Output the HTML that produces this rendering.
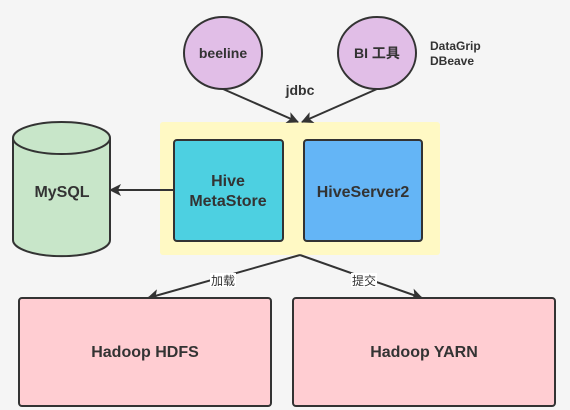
<!DOCTYPE html>
<html><head><meta charset="utf-8"><style>
body{margin:0;background:#f5f5f5;}
svg{display:block;font-family:"Liberation Sans","Noto Sans CJK SC",sans-serif;}
</style></head><body>
<svg width="570" height="410" viewBox="0 0 570 410">
<defs><marker id="a" markerWidth="12" markerHeight="12" refX="11" refY="6" orient="auto" markerUnits="userSpaceOnUse"><path d="M0,0 L12,6 L0,12 L3,6 z" fill="#333"/></marker></defs>
<rect width="570" height="410" fill="#f5f5f5"/>
<rect x="160" y="122" width="280" height="133" rx="3" fill="#fff9c4"/>
<ellipse cx="223" cy="53" rx="39" ry="36" fill="#e1bee7" stroke="#333" stroke-width="2"/>
<ellipse cx="377" cy="53" rx="39" ry="36" fill="#e1bee7" stroke="#333" stroke-width="2"/>
<text x="223" y="58" text-anchor="middle" font-size="14" font-weight="bold" fill="#333">beeline</text>
<text x="377" y="58" text-anchor="middle" font-size="14" font-weight="bold" fill="#333">BI 工具</text>
<text x="430" y="50" font-size="12" font-weight="bold" fill="#333">DataGrip</text>
<text x="430" y="65" font-size="12" font-weight="bold" fill="#333">DBeave</text>
<text x="300" y="95" text-anchor="middle" font-size="14" font-weight="bold" fill="#333">jdbc</text>
<line x1="223" y1="89" x2="298" y2="122" stroke="#333" stroke-width="2" marker-end="url(#a)"/>
<line x1="377" y1="89" x2="302" y2="122" stroke="#333" stroke-width="2" marker-end="url(#a)"/>
<rect x="174" y="140" width="109" height="101" rx="3" fill="#4dd0e1" stroke="#333" stroke-width="2"/>
<rect x="304" y="140" width="118" height="101" rx="3" fill="#64b5f6" stroke="#333" stroke-width="2"/>
<text x="228" y="186" text-anchor="middle" font-size="16" font-weight="bold" fill="#333">Hive</text>
<text x="228" y="206" text-anchor="middle" font-size="16" font-weight="bold" fill="#333">MetaStore</text>
<text x="363" y="197" text-anchor="middle" font-size="16" font-weight="bold" fill="#333">HiveServer2</text>
<path d="M13,138 L13,240 A48,16 0 0 0 110,240 L110,138" fill="#c8e6c9" stroke="#333" stroke-width="2"/>
<ellipse cx="61.5" cy="138" rx="48.5" ry="16" fill="#c8e6c9" stroke="#333" stroke-width="2"/>
<text x="62" y="197" text-anchor="middle" font-size="16" font-weight="bold" fill="#333">MySQL</text>
<line x1="174" y1="190" x2="110" y2="190" stroke="#333" stroke-width="2" marker-end="url(#a)"/>
<line x1="300" y1="255" x2="148" y2="298" stroke="#333" stroke-width="2" marker-end="url(#a)"/>
<line x1="300" y1="255" x2="422" y2="298" stroke="#333" stroke-width="2" marker-end="url(#a)"/>
<rect x="210" y="273" width="26" height="14" fill="#fff"/>
<text x="223" y="285" text-anchor="middle" font-size="12" fill="#333">加载</text>
<rect x="351" y="273" width="26" height="14" fill="#fff"/>
<text x="364" y="285" text-anchor="middle" font-size="12" fill="#333">提交</text>
<rect x="19" y="298" width="252" height="108" rx="3" fill="#ffcdd2" stroke="#333" stroke-width="2"/>
<rect x="293" y="298" width="262" height="108" rx="3" fill="#ffcdd2" stroke="#333" stroke-width="2"/>
<text x="145" y="357" text-anchor="middle" font-size="16" font-weight="bold" fill="#333">Hadoop HDFS</text>
<text x="424" y="357" text-anchor="middle" font-size="16" font-weight="bold" fill="#333">Hadoop YARN</text>
</svg>
</body></html>
